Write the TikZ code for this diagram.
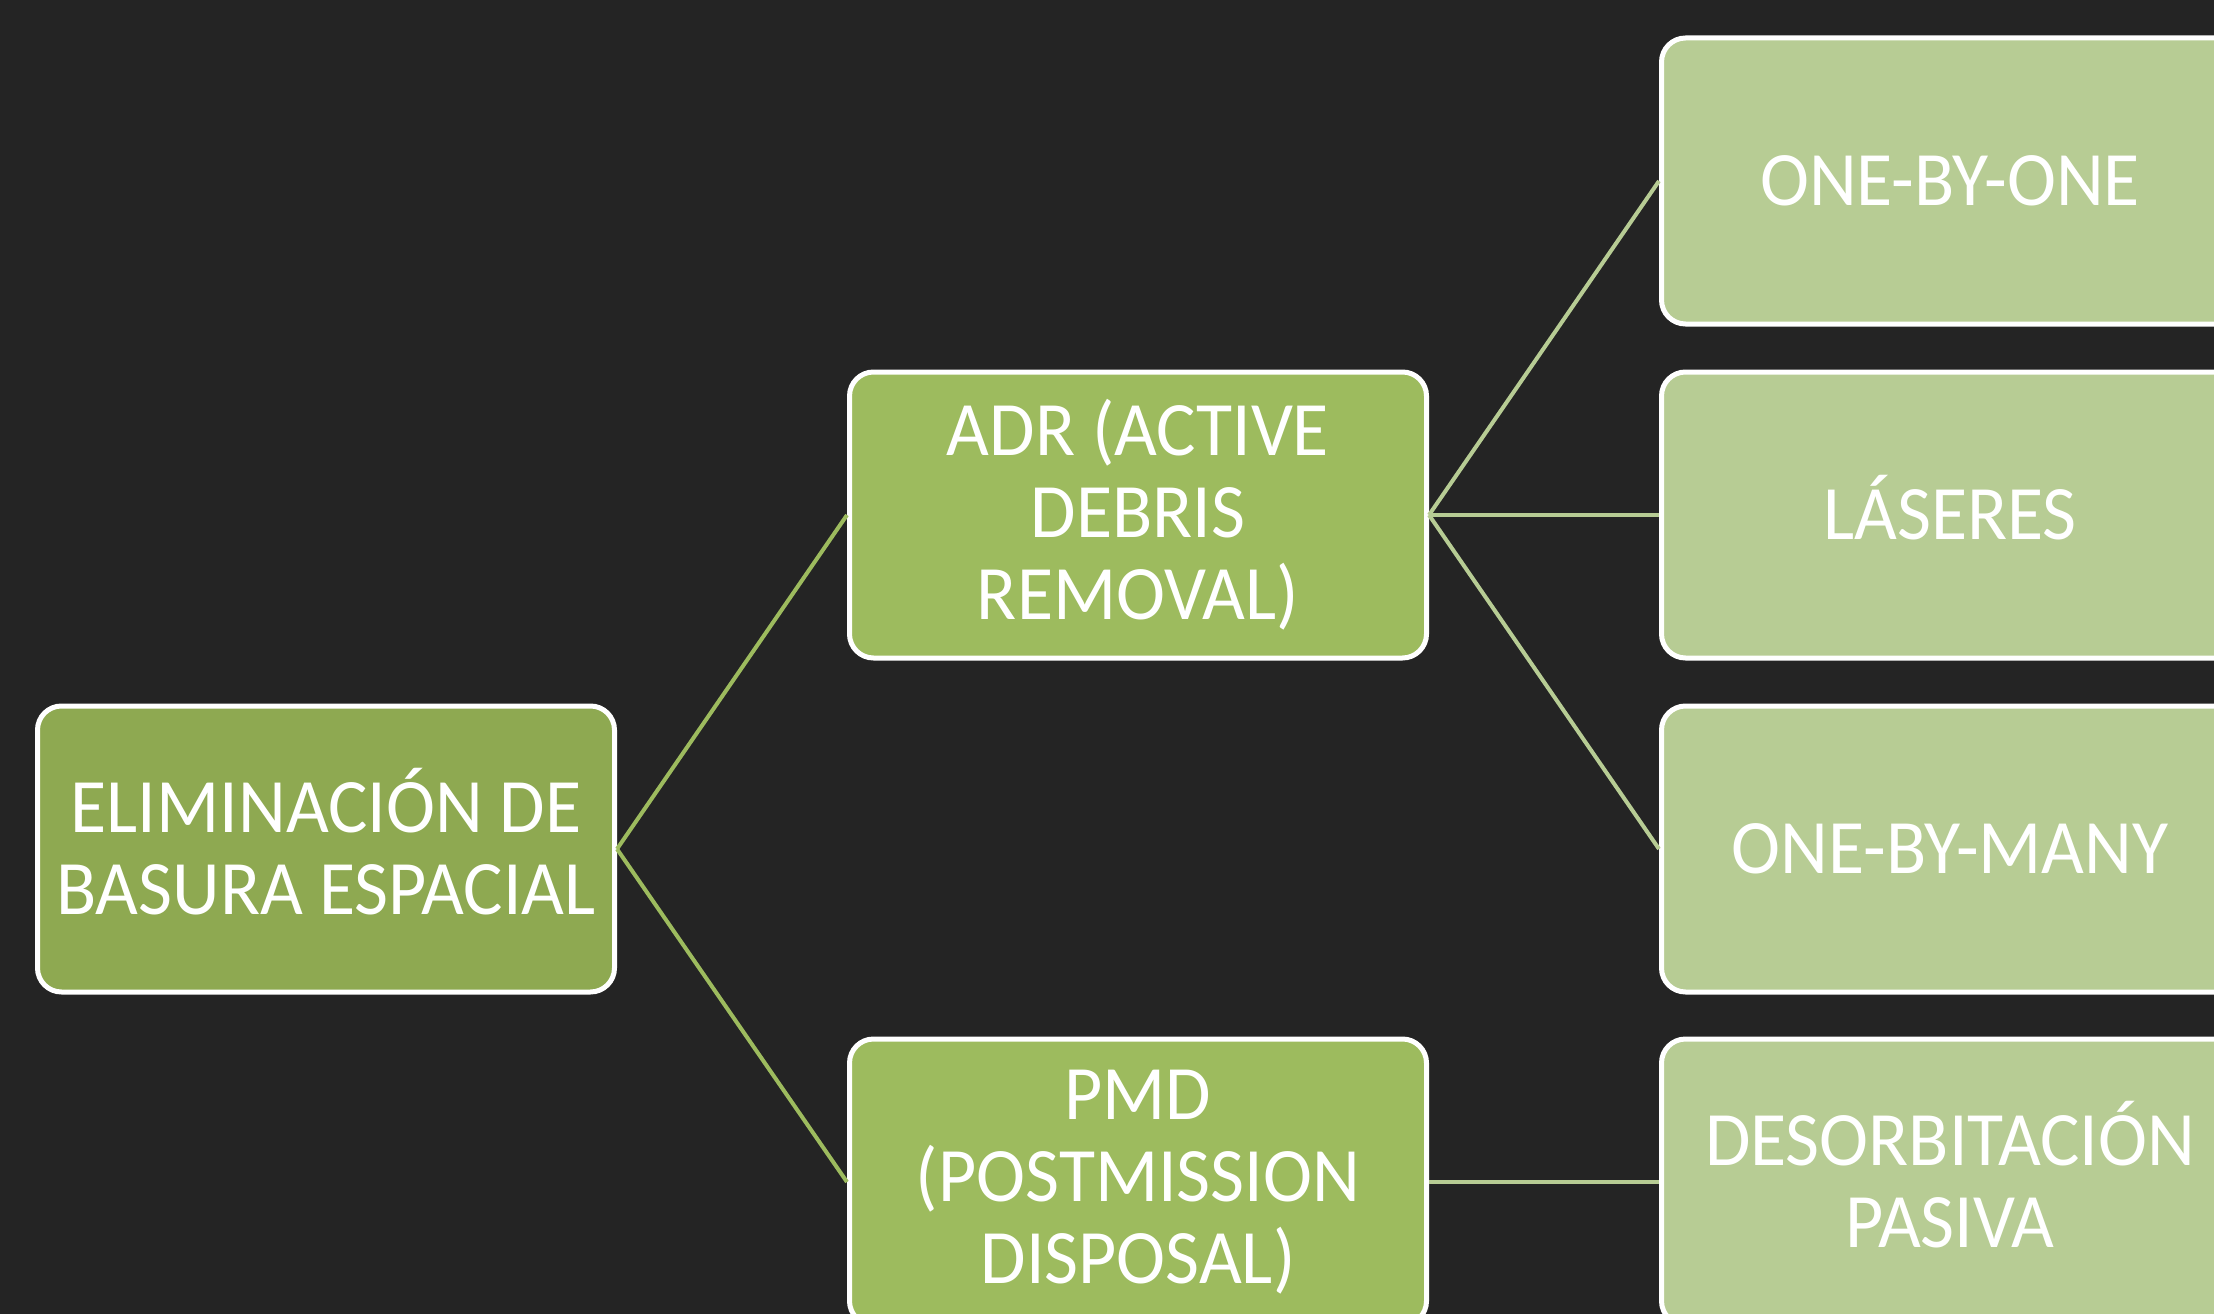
\documentclass[tikz,border=0pt]{standalone}
\usepackage{fontspec}
\setmainfont[FakeStretch=0.96]{Carlito}
\definecolor{bgc}{HTML}{242424}
\definecolor{rootg}{HTML}{8EA951}
\definecolor{midg}{HTML}{9DBB5E}
\definecolor{leafg}{HTML}{B7CC94}
\newcommand{\capline}[1]{\vphantom{A}\smash{#1}}
\begin{document}
\begin{tikzpicture}[x=1pt,y=-1pt,
  box/.style={rectangle, rounded corners=24pt, draw=white, line width=5pt,
    minimum width=577pt, minimum height=286pt, inner sep=0pt, align=center,
    text=white, font=\fontsize{77}{82}\selectfont},
  rootbox/.style={box, fill=rootg},
  midbox/.style={box, fill=midg},
  leafbox/.style={box, fill=leafg},
  link1/.style={draw=midg, line width=4pt},
  link2/.style={draw=leafg, line width=4pt}]
\fill[bgc] (0,0) rectangle (2214,1314);
\useasboundingbox (0,0) rectangle (2214,1314);
\node[rootbox] (root) at (326,849) {\capline{ELIMINACIÓN DE}\\BASURA ESPACIAL};
\node[midbox] (adr) at (1138,515) {ADR (ACTIVE\\DEBRIS\\REMOVAL)};
\node[midbox] (pmd) at (1138,1182) {PMD\\(POSTMISSION\\DISPOSAL)};
\node[leafbox] (one) at (1950,181) {ONE-BY-ONE};
\node[leafbox] (las) at (1950,515) {\capline{LÁSERES}};
\node[leafbox] (many) at (1950,849) {ONE-BY-MANY};
\node[leafbox] (deso) at (1950,1182) {\capline{DESORBITACIÓN}\\PASIVA};
\draw[link1] (root.east) -- (adr.west);
\draw[link1] (root.east) -- (pmd.west);
\draw[link2] (adr.east) -- (one.west);
\draw[link2] (adr.east) -- (las.west);
\draw[link2] (adr.east) -- (many.west);
\draw[link2] (pmd.east) -- (deso.west);
\end{tikzpicture}
\end{document}
